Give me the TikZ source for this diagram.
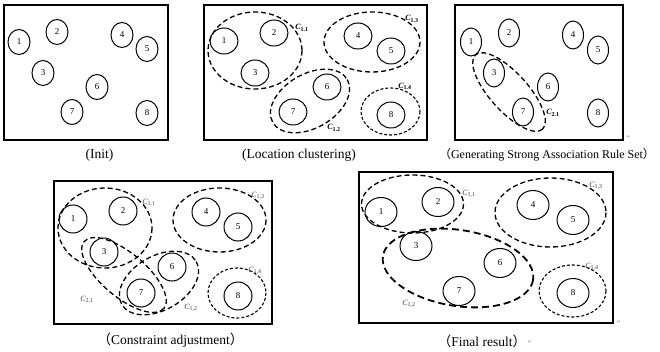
\documentclass[tikz,border=0pt]{standalone}
\usepackage{fontspec}
\setmainfont{Liberation Serif}
\newfontfamily\cjk{Noto Sans CJK SC}
\newfontfamily\djv{DejaVu Sans}
\usetikzlibrary{shapes.geometric}
\begin{document}
\begin{tikzpicture}[x=1pt,y=-1pt,
 frame/.style={draw, line width=1.4pt},
 pt/.style={draw, ellipse, line width=1pt, inner sep=0pt, font=\fontsize{9}{9}\selectfont},
 ptA/.style={pt, minimum width=22pt, minimum height=25pt},
 ptB/.style={pt, minimum width=28pt, minimum height=26pt},
 ptC/.style={pt, minimum width=21pt, minimum height=28pt},
 ptD/.style={pt, minimum width=28pt, minimum height=28pt},
 ptE/.style={pt, minimum width=32pt, minimum height=29pt},
 clu/.style={line width=1.3pt, dash pattern=on 5pt off 3pt},
 clus/.style={line width=1.1pt, dash pattern=on 3pt off 2pt},
 club/.style={line width=1.8pt, dash pattern=on 7pt off 4pt},
 labb/.style={inner sep=0pt, font=\fontsize{8}{8}\selectfont\bfseries},
 lab/.style={inner sep=0pt, text=black!75, font=\fontsize{8}{8}\selectfont},
 captxt/.style={inner sep=0pt, font=\fontsize{13.5}{15}\selectfont},
 pmark/.style={inner sep=0pt, text=black!45, font=\djv\fontsize{5}{5}\selectfont}
]
\useasboundingbox (0,0) rectangle (660,352);
% ---------- panel 1
\draw[frame] (4,5) rectangle (168,140);
\node[ptA] (a1) at (19,42) {1};
\node[ptA] (a2) at (57,32) {2};
\node[ptA] (a3) at (43,73) {3};
\node[ptA] (a4) at (122,35) {4};
\node[ptA] (a5) at (147,49) {5};
\node[ptA] (a6) at (97,87) {6};
\node[ptA] (a7) at (72,112) {7};
\node[ptA] (a8) at (147,113) {8};
\node[captxt] (capa) at (99.5,155) {(Init)};
% ---------- panel 2
\draw[frame] (204,5) rectangle (427,140);
\node[ptB] (b1) at (224,41) {1};
\node[ptB] (b2) at (274,33) {2};
\node[ptB] (b3) at (255,73) {3};
\node[ptB] (b4) at (358,36) {4};
\node[ptB] (b5) at (391,51) {5};
\node[ptB] (b6) at (327,87) {6};
\node[ptB] (b7) at (293,112) {7};
\node[ptB] (b8) at (391,115) {8};
\draw[clu] (255,50.5) ellipse [x radius=47, y radius=38.5];
\draw[clu] (372,42) ellipse [x radius=48, y radius=30];
\draw[clu, rotate around={30:(310,101)}] (310,101) ellipse [x radius=43, y radius=27];
\draw[clus] (390.5,111.5) ellipse [x radius=29.5, y radius=23.5];
\node[labb] (lb11) at (302,28) {\textit{C}\textsubscript{1.1}};
\node[labb] (lb13) at (412,19) {\textit{C}\textsubscript{1.3}};
\node[labb] (lb12) at (334,128) {\textit{C}\textsubscript{1.2}};
\node[labb] (lb14) at (405,86) {\textit{C}\textsubscript{1.4}};
\node[captxt] (capb) at (299,155) {(Location clustering)};
% ---------- panel 3
\draw[frame] (455,5) rectangle (623,140);
\node[ptC] (c1) at (471,42) {1};
\node[ptC] (c2) at (509,33) {2};
\node[ptC] (c3) at (494,73) {3};
\node[ptC] (c4) at (573,35) {4};
\node[ptC] (c5) at (598,50) {5};
\node[ptC] (c6) at (548,87) {6};
\node[ptC] (c7) at (523,112) {7};
\node[ptC] (c8) at (598,113) {8};
\draw[clu, rotate around={-48:(509,92)}] (509,92) ellipse [x radius=50, y radius=19];
\node[labb] (lc21) at (553,113) {\textit{C}\textsubscript{2.1}};
\node[captxt, font=\fontsize{12}{14}\selectfont] (capc) at (547,155) {{\cjk （}Generating Strong Association Rule Set{\cjk ）}};
\node[pmark] (mc) at (629,137) {↵};
% ---------- panel 4
\draw[frame] (54,181) rectangle (272,324);
\node[ptD] (d1) at (73,219) {1};
\node[ptD] (d2) at (123,211) {2};
\node[ptD] (d3) at (104,252) {3};
\node[ptD] (d4) at (206,212) {4};
\node[ptD] (d5) at (238,227) {5};
\node[ptD] (d6) at (172,267) {6};
\node[ptD] (d7) at (141,293) {7};
\node[ptD] (d8) at (238,296) {8};
\draw[clu] (105,228) ellipse [x radius=47, y radius=40];
\draw[clu] (219.5,220) ellipse [x radius=46.5, y radius=32];
\draw[clu, rotate around={-40:(124,275)}] (124,275) ellipse [x radius=52, y radius=22];
\draw[clu, rotate around={30:(159,283)}] (159,283) ellipse [x radius=43, y radius=27];
\draw[clus] (237,293) ellipse [x radius=29, y radius=25];
\node[lab] (ld11) at (149,203) {\textit{C}\textsubscript{1,1}};
\node[lab] (ld13) at (258,196) {\textit{C}\textsubscript{1,3}};
\node[lab] (ld21) at (87,300) {\textit{C}\textsubscript{2,1}};
\node[lab] (ld12) at (191,308) {\textit{C}\textsubscript{1,2}};
\node[lab] (ld14) at (255,271) {\textit{C}\textsubscript{1,4}};
\node[captxt] (capd) at (170.5,340) {{\cjk （}Constraint adjustment{\cjk ）}};
% ---------- panel 5
\draw[frame] (359,172) rectangle (613,323);
\node[ptE] (e1) at (381,212) {1};
\node[ptE] (e2) at (438,202) {2};
\node[ptE] (e3) at (416,246) {3};
\node[ptE] (e4) at (533,205) {4};
\node[ptE] (e5) at (573,220) {5};
\node[ptE] (e6) at (500,263) {6};
\node[ptE] (e7) at (459,291) {7};
\node[ptE] (e8) at (573,293) {8};
\draw[clu] (412.5,204) ellipse [x radius=51, y radius=29];
\draw[clu] (550.5,212.5) ellipse [x radius=55.5, y radius=34.5];
\draw[club, rotate around={-9:(458,268)}] (458,268) ellipse [x radius=76, y radius=38];
\draw[clus] (572.5,291) ellipse [x radius=33.5, y radius=26];
\node[lab] (le11) at (469,194) {\textit{C}\textsubscript{1,1}};
\node[lab] (le13) at (596,186) {\textit{C}\textsubscript{1,3}};
\node[lab] (le12) at (409,304) {\textit{C}\textsubscript{1,2}};
\node[lab] (le14) at (592,267) {\textit{C}\textsubscript{1,4}};
\node[captxt] (cape) at (482,341) {{\cjk （}Final result{\cjk ）}};
\node[pmark] (me1) at (530,342) {↵};
\node[pmark] (me2) at (619,322) {↵};
\end{tikzpicture}
\end{document}
